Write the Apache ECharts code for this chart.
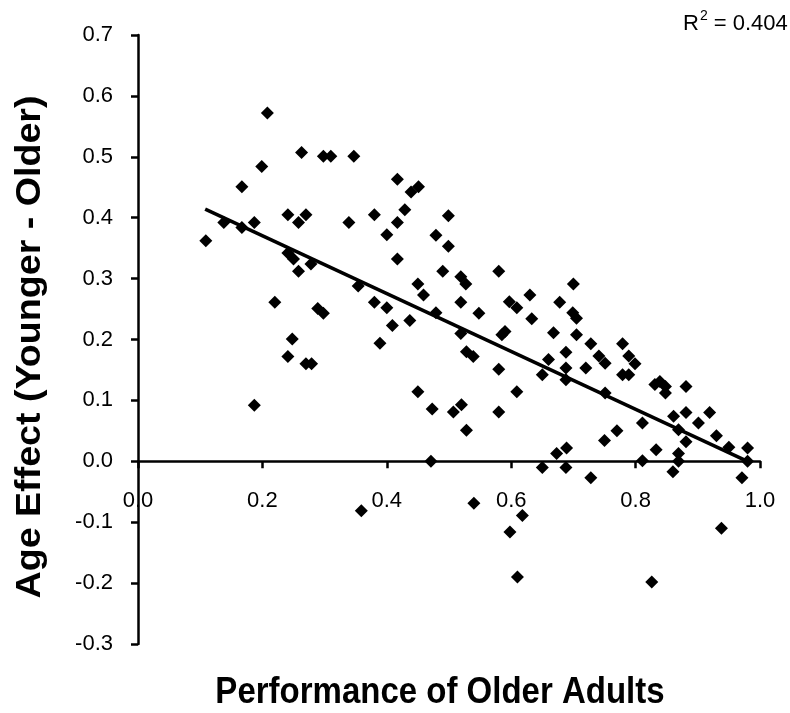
<!DOCTYPE html>
<html>
<head>
<meta charset="utf-8">
<script src="https://cdn.jsdelivr.net/npm/echarts@6/dist/echarts.min.js"></script>
<style>
html,body{margin:0;padding:0;background:#fff;}
#chart{width:790px;height:713px;}
</style>
</head>
<body>
<div id="chart"></div>
<script>
// Performance of older adults (x)
var perfOlder = [
0.109,0.138,0.167,0.167,0.187,0.187,0.199,0.208,0.220,0.241,
0.241,0.241,0.248,0.250,0.258,0.258,0.263,0.270,0.270,0.278,
0.279,0.289,0.298,0.298,0.310,0.339,0.347,0.354,0.359,0.380,
0.380,0.389,0.400,0.400,0.409,0.417,0.417,0.417,0.429,0.437,
0.439,0.451,0.450,0.450,0.459,0.471,0.473,0.479,0.479,0.490,
0.499,0.499,0.507,0.519,0.519,0.519,0.520,0.527,0.528,0.528,
0.539,0.540,0.548,0.580,0.580,0.580,0.585,0.590,0.597,0.598,
0.609,0.609,0.610,0.618,0.630,0.633,0.650,0.650,0.660,0.668,
0.673,0.678,0.688,0.688,0.688,0.689,0.688,0.699,0.700,0.705,
0.705,0.720,0.728,0.728,0.741,0.750,0.751,0.751,0.770,0.779,
0.779,0.789,0.789,0.799,0.811,0.811,0.826,0.831,0.833,0.839,
0.848,0.848,0.860,0.861,0.869,0.869,0.869,0.881,0.881,0.881,
0.901,0.919,0.930,0.938,0.950,0.971,0.980,0.980
];
// Age effect (younger - older) (y)
var ageEffect = [
0.362,0.392,0.384,0.451,0.392,0.092,0.484,0.572,0.261,0.405,
0.342,0.172,0.201,0.332,0.392,0.312,0.507,0.405,0.160,0.324,
0.160,0.251,0.243,0.501,0.501,0.392,0.501,0.288,-0.081,0.405,
0.261,0.194,0.372,0.252,0.223,0.463,0.392,0.332,0.413,0.231,
0.442,0.451,0.291,0.114,0.273,0.000,0.086,0.371,0.244,0.312,
0.403,0.353,0.081,0.303,0.261,0.210,0.093,0.291,0.180,0.051,
0.172,-0.069,0.243,0.312,0.151,0.081,0.208,0.213,0.262,-0.116,
0.252,0.114,-0.190,-0.089,0.273,0.234,0.142,-0.010,0.167,0.211,
0.013,0.261,0.179,0.153,0.134,0.022,-0.010,0.244,0.291,0.235,
0.208,0.153,0.193,-0.027,0.173,0.034,0.161,0.112,0.050,0.193,
0.142,0.173,0.142,0.160,0.063,0.001,-0.198,0.126,0.019,0.131,
0.123,0.112,-0.017,0.074,0.052,0.013,0.000,0.123,0.080,0.032,
0.063,0.080,0.042,-0.110,0.023,-0.027,0.022,0.000
];
// Linear trend line end points
var trendX = [0.108, 0.980];
var trendY = [0.414, 0.000];
var xTicks = [0.0, 0.2, 0.4, 0.6, 0.8, 1.0];
var yTicks = [-0.3, -0.2, -0.1, 0.0, 0.1, 0.2, 0.3, 0.4, 0.5, 0.6, 0.7];
var rSquared = '0.404';
var xTitle = 'Performance of Older Adults';
var yTitle = 'Age Effect (Younger - Older)';

var pts = perfOlder.map(function (x, i) { return [x, ageEffect[i]]; });
var trend = trendX.map(function (x, i) { return [x, trendY[i]]; });
var FONT = '"Liberation Sans", Arial, sans-serif';

var W = 790, H = 713;
var gridTop = 35, gridBottom = 69;
var yMin = yTicks[0], yMax = yTicks[yTicks.length - 1];
var gridH = H - gridTop - gridBottom;
// shift the x axis up so it sits on y = 0
var xAxisOffset = -gridH * (0 - yMin) / (yMax - yMin);

var chart = echarts.init(document.getElementById('chart'), null, {renderer: 'canvas'});
chart.setOption({
  animation: false,
  backgroundColor: '#ffffff',
  grid: {left: 138, right: 30, top: gridTop, bottom: gridBottom, containLabel: false},
  xAxis: {
    type: 'value', min: xTicks[0], max: xTicks[xTicks.length - 1], interval: 0.2,
    offset: xAxisOffset,
    axisLine: {onZero: false, lineStyle: {color: '#000', width: 2.5}},
    axisTick: {show: true, inside: false, length: 7, lineStyle: {color: '#000', width: 2.5}},
    axisLabel: {margin: 29, fontSize: 22, color: '#000', fontFamily: FONT,
      formatter: function (v) { return v.toFixed(1); }},
    splitLine: {show: false}
  },
  yAxis: {
    type: 'value', min: yMin, max: yMax, interval: 0.1,
    axisLine: {onZero: false, lineStyle: {color: '#000', width: 2.5}},
    axisTick: {show: true, inside: false, length: 7, lineStyle: {color: '#000', width: 2.5}},
    axisLabel: {margin: 25, fontSize: 22, color: '#000', fontFamily: FONT,
      formatter: function (v) { return v.toFixed(1); }},
    splitLine: {show: false}
  },
  graphic: [
    {type: 'text', x: 440, y: 693, scaleY: 1.1,
     style: {text: xTitle, font: 'bold 33px ' + FONT, fill: '#000', align: 'center', verticalAlign: 'middle'}},
    {type: 'text', x: 30, y: 347, rotation: Math.PI / 2, scaleX: 1.14, scaleY: 1.05,
     style: {text: yTitle, font: 'bold 33px ' + FONT, fill: '#000', align: 'center', verticalAlign: 'middle'}},
    {type: 'text', x: 683, y: 22,
     style: {text: '{r|R}{s|2}{r| = ' + rSquared + '}', fill: '#000', align: 'left', verticalAlign: 'middle',
       rich: {r: {fontSize: 22, fontFamily: FONT, verticalAlign: 'bottom', lineHeight: 26},
              s: {fontSize: 14, fontFamily: FONT, verticalAlign: 'top', lineHeight: 26, padding: [0, 0, 0, 1]}}}}
  ],
  series: [
    {type: 'scatter', data: pts, symbol: 'diamond', symbolSize: 13,
     itemStyle: {color: '#000', opacity: 1}, z: 3},
    {type: 'line', data: trend, symbol: 'none', lineStyle: {color: '#000', width: 3.5, opacity: 1}, z: 2}
  ]
});
</script>
</body>
</html>
